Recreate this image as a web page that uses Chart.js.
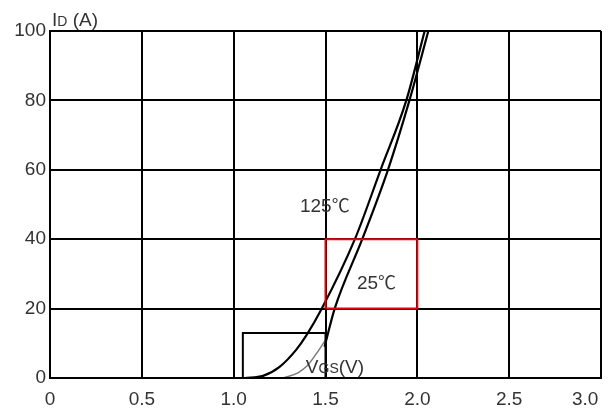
<!DOCTYPE html>
<html>
<head>
<meta charset="utf-8">
<script src="https://cdn.jsdelivr.net/npm/chart.js@4/dist/chart.umd.min.js"></script>
<style>
  html, body { margin: 0; padding: 0; background: #fff; }
  #wrap { width: 612px; height: 412px; }
</style>
</head>
<body>
<div id="wrap"><canvas id="transferChart"></canvas></div>
<script>
// Transfer characteristics - ID vs VGS
const xTicks = [0, 0.5, 1.0, 1.5, 2.0, 2.5, 3.0];
const yTicks = [0, 20, 40, 60, 80, 100];

// 125 C curve
const vgs125 = [1.06, 1.16, 1.25, 1.34, 1.395, 1.48, 1.66, 1.80, 1.94, 2.04];
const id125 = [0, 0.6, 3.2, 8.1, 12.2, 20, 40, 60, 80, 100];

// 25 C curve (grey low part inside the zoom box, black above it)
const vgs25Low = [1.27, 1.35, 1.40, 1.45, 1.50];
const id25Low = [0, 1.5, 3.5, 7, 11];
const vgs25 = [1.495, 1.55, 1.70, 1.84, 1.957, 2.06];
const id25 = [9, 20, 40, 60, 80, 100];

// boxes
const redBoxX = [1.5, 2.0, 2.0, 1.5, 1.5];
const redBoxY = [20, 20, 40, 40, 20];
const zoomBoxX = [1.05, 1.5, 1.5, 1.05, 1.05];
const zoomBoxY = [0, 0, 13, 13, 0];

function pts(xs, ys) {
    return xs.map((x, i) => ({ x: x, y: ys[i] }));
}

const textColor = '#333';
const fontFamily = '"Liberation Sans", Arial, sans-serif';
const cjkFont = '"Noto Sans CJK SC", sans-serif';

// text labels drawn at data positions
const labelPlugin = {
    id: 'labels',
    afterDatasetsDraw(chart) {
        const ctx = chart.ctx;
        const xs = chart.scales.x, ys = chart.scales.y;
        ctx.save();
        ctx.fillStyle = textColor;
        ctx.textBaseline = 'alphabetic';

        function drawParts(parts, x, y) {
            let cx = x;
            parts.forEach(p => {
                ctx.font = p[1] + 'px ' + (p[2] || fontFamily);
                ctx.fillText(p[0], cx, y);
                cx += ctx.measureText(p[0]).width;
            });
        }

        // axis title
        drawParts([['I', 19], ['D', 14], [' (A)', 19]], chart.chartArea.left + 2, chart.chartArea.top - 5);

        drawParts([['125', 19], ['\u2103', 18, cjkFont]], xs.getPixelForValue(1.361), ys.getPixelForValue(47.8));
        drawParts([['25', 19], ['\u2103', 18, cjkFont]], xs.getPixelForValue(1.671), ys.getPixelForValue(25.6));
        drawParts([['V', 19], ['GS', 14], ['(V)', 19]], xs.getPixelForValue(1.393), ys.getPixelForValue(1.4));
        ctx.restore();
    }
};

new Chart(document.getElementById('transferChart'), {
    type: 'scatter',
    data: {
        datasets: [
            {
                data: pts(zoomBoxX, zoomBoxY),
                showLine: true, borderColor: '#000', borderWidth: 2,
                pointRadius: 0, tension: 0
            },
            {
                data: pts(redBoxX, redBoxY),
                showLine: true, borderColor: '#e8000b', borderWidth: 2,
                pointRadius: 0, tension: 0
            },
            {
                label: '125C',
                data: pts(vgs125, id125),
                showLine: true, borderColor: '#000', borderWidth: 2.2,
                pointRadius: 0, cubicInterpolationMode: 'monotone'
            },
            {
                label: '25C low',
                data: pts(vgs25Low, id25Low),
                showLine: true, borderColor: '#777', borderWidth: 1.4,
                pointRadius: 0, cubicInterpolationMode: 'monotone'
            },
            {
                label: '25C',
                data: pts(vgs25, id25),
                showLine: true, borderColor: '#000', borderWidth: 2.2,
                pointRadius: 0, cubicInterpolationMode: 'monotone'
            }
        ]
    },
    options: {
        responsive: true,
        maintainAspectRatio: false,
        animation: false,
        layout: { padding: { left: 0, right: 11, top: 31, bottom: 0 } },
        plugins: {
            legend: { display: false },
            tooltip: { enabled: false }
        },
        scales: {
            x: {
                type: 'linear',
                min: 0, max: 3.0,
                afterBuildTicks: s => { s.ticks = xTicks.map(v => ({ value: v })); },
                afterFit: s => { s.height = 34; s.paddingRight = 0; s.paddingLeft = 0; },
                grid: { color: '#000', lineWidth: 2, drawTicks: false },
                border: { color: '#000', width: 2 },
                ticks: {
                    padding: 10,
                    color: textColor,
                    font: { family: fontFamily, size: 19 },
                    maxRotation: 0,
                    // last label sits inside the canvas, ending at the right edge
                    callback: v => v === 0 ? '0' : (v === 3 ? '3.0\u2007\u2007\u2007' : v.toFixed(1))
                }
            },
            y: {
                type: 'linear',
                min: 0, max: 100,
                afterBuildTicks: s => { s.ticks = yTicks.map(v => ({ value: v })); },
                afterFit: s => { s.width = 50; },
                grid: { color: '#000', lineWidth: 2, drawTicks: false },
                border: { color: '#000', width: 2 },
                ticks: {
                    padding: 4,
                    color: textColor,
                    font: { family: fontFamily, size: 19 }
                }
            }
        }
    },
    plugins: [labelPlugin]
});
</script>
</body>
</html>
